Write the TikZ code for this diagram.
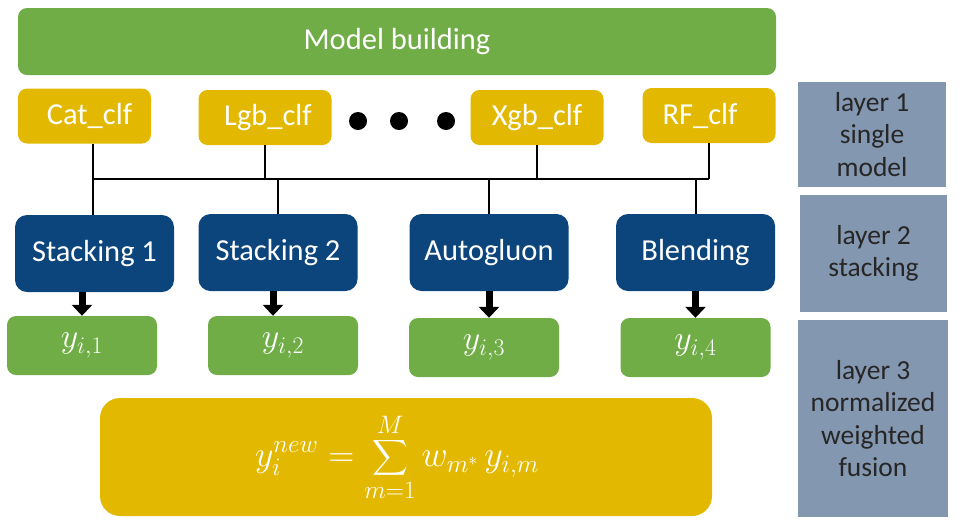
\RequirePackage{fix-cm}
\documentclass[tikz,border=0pt]{standalone}
\usepackage{amsmath}
\usepackage{fontspec}
\setmainfont{Carlito}
\usepackage{tikz}
\usetikzlibrary{arrows.meta}

\definecolor{buildgreen}{RGB}{112,173,71}
\definecolor{clfgold}{RGB}{226,185,0}
\definecolor{stackblue}{RGB}{12,68,124}
\definecolor{layergrey}{RGB}{132,151,176}

\begin{document}
\begin{tikzpicture}[x=1pt,y=-1pt,
    box/.style={rounded corners=9pt,text=white,inner sep=0pt,
        font=\fontsize{30.5}{34}\selectfont},
    clf/.style={box,fill=clfgold,minimum width=133pt,minimum height=55pt},
    stack/.style={box,fill=stackblue,rounded corners=12pt,minimum width=159pt,minimum height=77pt},
    ybox/.style={box,fill=buildgreen,minimum width=150pt,minimum height=59pt,
        font=\fontsize{34}{38}\selectfont},
    layer/.style={fill=layergrey,text=black!85,inner sep=0pt,align=center,
        font=\fontsize{27.5}{32.5}\selectfont},
    bus/.style={line width=2pt},
    fat/.style={line width=7pt,-{Triangle[width=20pt,length=11pt]}}]
    \useasboundingbox (0,0) rectangle (960,523);

    \node[box,fill=buildgreen,minimum width=758pt,minimum height=67pt] (build) at (397,41.5) {Model building};

    \node[clf] (cat) at (84.5,116) {\hspace*{10pt}Cat\_clf};
    \node[clf] (lgb) at (265,117.5) {\hspace*{6pt}Lgb\_clf};
    \node[clf] (xgb) at (537,117.5) {Xgb\_clf};
    \node[clf] (rf)  at (709,115.5) {RF\_clf\hspace*{18pt}};
    \foreach \dx in {358,399,446}
        \fill (\dx,121) circle (9pt);

    \node[stack] (st1)   at (94.5,253.5) {Stacking 1};
    \node[stack] (st2)   at (278,252.5) {Stacking 2};
    \node[stack] (auto)  at (489,252.5) {Autogluon};
    \node[stack] (blend) at (695.5,252.5) {Blending};

    \node[ybox] (y1) at (82,345.5) {$y_{i,1}$};
    \node[ybox] (y2) at (283,345.5) {$y_{i,2}$};
    \node[ybox] (y3) at (484,347.5) {$y_{i,3}$};
    \node[ybox] (y4) at (695.5,347.5) {$y_{i,4}$};

    \node[box,fill=clfgold,rounded corners=20pt,minimum width=612pt,minimum height=118pt,
        font=\fontsize{36}{40}\selectfont] (fuse) at (406,457)
        {$\displaystyle y_i^{new} = \sum_{m=1}^{M} w_{m^*}\, y_{i,m}$\hspace*{18pt}};

    \node[layer,minimum width=148pt,minimum height=105pt] (l1) at (872,134.5) {layer 1\\single\\model};
    \node[layer,minimum width=147pt,minimum height=117pt] (l2) at (873.5,253.5) {layer 2\\stacking};
    \node[layer,minimum width=150pt,minimum height=197pt] (l3) at (873,418.5) {layer 3\\normalized\\weighted\\fusion};

    % bus between layer 1 and layer 2
    \coordinate (jl) at (93,179);
    \coordinate (jr) at (709,179);
    \draw[bus] (jl) -- (jr);
    \draw[bus] (cat.south -| jl) -- (st1.north -| jl);
    \draw[bus] (lgb.south) -- (lgb.south |- jl);
    \draw[bus] (xgb.south) -- (xgb.south |- jl);
    \draw[bus] (rf.south) -- (rf.south |- jr);
    \draw[bus] (st2.north) -- (st2.north |- jl);
    \draw[bus] (auto.north) -- (auto.north |- jl);
    \draw[bus] (blend.north) -- (blend.north |- jl);

    \path[fat] (st1.south -| y1.north) edge (y1.north)
          ([xshift=-5pt]st2.south) edge ([xshift=-5pt]st2.south |- y2.north)
          (auto.south) edge (auto.south |- y3.north)
          (blend.south) edge (blend.south |- y4.north);
\end{tikzpicture}
\end{document}
